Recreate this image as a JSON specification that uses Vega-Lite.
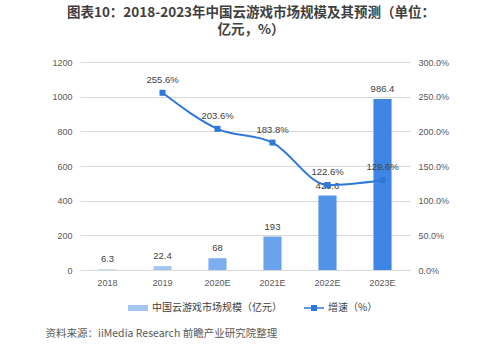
{
  "$schema": "https://vega.github.io/schema/vega-lite/v6.json",
  "width": 330,
  "height": 208,
  "autosize": {"type": "none"},
  "padding": {"left": 80, "top": 62, "right": 90, "bottom": 92},
  "background": "white",
  "config": {"view": {"stroke": null}, "font": "Noto Sans CJK SC"},
  "title": {
    "text": "图表10：2018-2023年中国云游戏市场规模及其预测（单位：",
    "subtitle": "亿元，%）",
    "fontSize": 13.5,
    "fontWeight": "bold",
    "color": "#404040",
    "subtitleFont": "Noto Sans CJK SC",
    "subtitleFontSize": 13.5,
    "subtitleFontWeight": "bold",
    "subtitleColor": "#404040",
    "subtitlePadding": 3,
    "anchor": "middle",
    "offset": 22,
    "font": "Noto Sans CJK SC",
    "dx": 6
  },
  "data": {
    "values": [
      {"year": "2018", "size": 6.3},
      {"year": "2019", "size": 22.4, "growth": 2.556},
      {"year": "2020E", "size": 68, "growth": 2.036},
      {"year": "2021E", "size": 193, "growth": 1.838},
      {"year": "2022E", "size": 429.6, "growth": 1.226},
      {"year": "2023E", "size": 986.4, "growth": 1.296}
    ]
  },
  "resolve": {"scale": {"y": "independent"}, "axis": {"y": "independent"}},
  "layer": [
    {
      "encoding": {
        "x": {
          "field": "year",
          "type": "nominal",
          "sort": null,
          "scale": {"paddingInner": 0.67, "paddingOuter": 0.335},
          "axis": {
            "labelAngle": 0,
            "ticks": false,
            "domain": true,
            "domainColor": "#d9d9d9",
            "labelPadding": 8,
            "labelColor": "#595959",
            "labelFontSize": 9,
            "labelFont": "Liberation Sans",
            "title": "资料来源：iiMedia Research  前瞻产业研究院整理",
            "titleFont": "Noto Sans CJK SC",
            "titleFontSize": 10.5,
            "titleFontWeight": "normal",
            "titleColor": "#595959",
            "titleAnchor": "start",
            "titleAlign": "left",
            "titleBaseline": "middle",
            "titleX": -35,
            "titleY": 63
          }
        },
        "y": {
          "field": "size",
          "type": "quantitative",
          "scale": {"domain": [0, 1200]},
          "axis": {
            "orient": "left",
            "values": [0, 200, 400, 600, 800, 1000, 1200],
            "format": "d",
            "grid": true,
            "gridColor": "#d9d9d9",
            "domain": false,
            "ticks": false,
            "labelPadding": 8,
            "labelFontSize": 9,
            "labelColor": "#595959",
            "labelFont": "Liberation Sans",
            "title": null
          }
        }
      },
      "layer": [
        {
          "mark": {"type": "bar"},
          "encoding": {
            "color": {
              "field": "year",
              "type": "nominal",
              "sort": null,
              "scale": {"range": ["#c8ddf7", "#a3c5f2", "#7cadee", "#6aa2ec", "#5293e8", "#3f86e4"]},
              "legend": null
            }
          }
        },
        {
          "mark": {"type": "text", "baseline": "bottom", "dy": -5, "fontSize": 9.5, "color": "#404040", "font": "Liberation Sans"},
          "encoding": {"text": {"field": "size", "type": "quantitative"}}
        }
      ]
    },
    {
      "encoding": {
        "x": {"field": "year", "type": "nominal", "sort": null},
        "y": {
          "field": "growth",
          "type": "quantitative",
          "scale": {"domain": [0, 3]},
          "axis": {
            "orient": "right",
            "values": [0, 0.5, 1, 1.5, 2, 2.5, 3],
            "format": ".1%",
            "grid": false,
            "domain": false,
            "ticks": false,
            "labelPadding": 8,
            "labelFontSize": 9,
            "labelColor": "#595959",
            "labelFont": "Liberation Sans",
            "title": null
          }
        }
      },
      "layer": [
        {
          "mark": {"type": "line", "interpolate": "monotone", "strokeWidth": 2},
          "encoding": {
            "stroke": {
              "datum": "增速（%）",
              "scale": {"domain": ["中国云游戏市场规模（亿元）", "增速（%）"], "range": ["#a4c6f3", "#2f78d8"]},
              "legend": {
                "orient": "none",
                "legendX": 48,
                "legendY": 236,
                "direction": "horizontal",
                "title": null,
                "labelFontSize": 10,
                "labelColor": "#404040",
                "labelFont": "Noto Sans CJK SC",
                "symbolSize": 400,
                "columnPadding": 22,
                "labelOffset": 4,
                "encode": {
                  "symbols": {
                    "update": {
                      "fill": {"scale": "stroke", "field": "value"},
                      "strokeWidth": {"value": 0},
                      "shape": {"signal": "datum.value == '增速（%）' ? 'M-1,-0.08H1V0.08H-1Z M-0.3,-0.3H0.3V0.3H-0.3Z' : 'M-1,-0.3H1V0.3H-1Z'"}
                    }
                  }
                }
              }
            }
          }
        },
        {
          "mark": {"type": "point", "shape": "square", "filled": true, "size": 36, "color": "#2f78d8", "opacity": 1}
        },
        {
          "mark": {"type": "text", "baseline": "bottom", "dy": -8, "fontSize": 9.5, "color": "#404040", "font": "Liberation Sans"},
          "encoding": {"text": {"field": "growth", "type": "quantitative", "format": ".1%"}}
        }
      ]
    }
  ]
}
